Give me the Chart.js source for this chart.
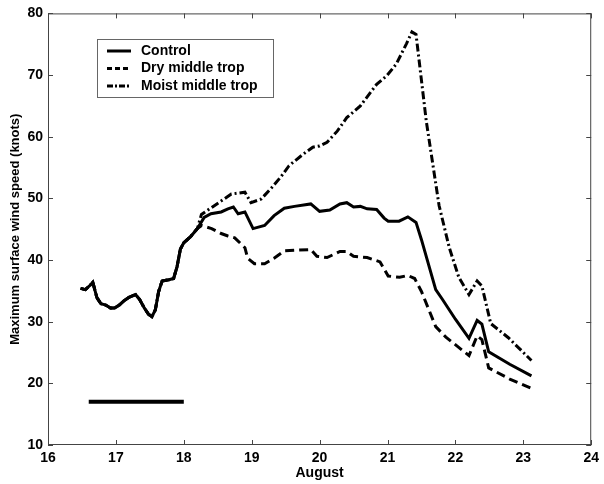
<!DOCTYPE html>
<html>
<head>
<meta charset="utf-8">
<script src="https://cdn.jsdelivr.net/npm/chart.js@4"></script>
<style>
  body { margin: 0; background: #fff; }
  #wrap { width: 604px; height: 484px; }
</style>
</head>
<body>
<div id="wrap"><canvas id="windChart"></canvas></div>
<script>
// shared spin-up period (all three runs identical)
const earlyDays = [16.48, 16.55, 16.62, 16.66, 16.72, 16.78, 16.85, 16.92, 16.98, 17.05, 17.12, 17.2, 17.29, 17.35, 17.42, 17.48, 17.53, 17.58, 17.63, 17.68, 17.78, 17.85, 17.9, 17.95, 18.0, 18.1, 18.2];
const earlyWind = [35.4, 35.2, 35.9, 36.4, 33.9, 32.9, 32.7, 32.2, 32.2, 32.7, 33.4, 34.0, 34.4, 33.6, 32.2, 31.2, 30.8, 31.9, 34.9, 36.6, 36.8, 37.0, 38.9, 41.8, 42.8, 43.8, 45.1];

const controlDays = [18.3, 18.4, 18.55, 18.65, 18.73, 18.8, 18.9, 19.02, 19.19, 19.33, 19.48, 19.63, 19.87, 20.0, 20.15, 20.3, 20.4, 20.5, 20.6, 20.7, 20.84, 20.95, 21.01, 21.17, 21.3, 21.42, 21.5, 21.71, 21.81, 22.0, 22.2, 22.32, 22.39, 22.49, 22.8, 23.12];
const controlWind = [46.9, 47.5, 47.8, 48.3, 48.6, 47.5, 47.8, 45.1, 45.6, 47.2, 48.4, 48.7, 49.1, 47.9, 48.1, 49.1, 49.3, 48.6, 48.7, 48.3, 48.2, 46.8, 46.3, 46.3, 47.0, 46.1, 43.3, 35.2, 33.6, 30.4, 27.3, 30.2, 29.6, 25.1, 23.1, 21.2];

const dryDays = [18.26, 18.41, 18.55, 18.65, 18.75, 18.9, 18.94, 19.04, 19.19, 19.33, 19.48, 19.87, 19.96, 20.11, 20.3, 20.4, 20.5, 20.7, 20.89, 21.01, 21.18, 21.3, 21.4, 21.5, 21.71, 21.86, 22.2, 22.32, 22.39, 22.49, 22.8, 23.12];
const dryWind = [45.6, 45.1, 44.3, 43.9, 43.6, 42.0, 40.3, 39.4, 39.4, 40.3, 41.5, 41.7, 40.6, 40.4, 41.4, 41.4, 40.6, 40.4, 39.7, 37.4, 37.2, 37.5, 37.0, 34.9, 29.2, 27.5, 24.5, 27.7, 27.1, 22.5, 20.7, 19.2];

const moistDays = [18.26, 18.46, 18.7, 18.9, 18.99, 19.14, 19.3, 19.43, 19.55, 19.75, 19.9, 20.0, 20.11, 20.26, 20.4, 20.6, 20.84, 20.99, 21.13, 21.28, 21.36, 21.42, 21.57, 21.76, 21.91, 22.05, 22.2, 22.32, 22.39, 22.52, 22.78, 23.12];
const moistWind = [47.4, 48.9, 50.7, 51.0, 49.3, 49.9, 51.8, 53.5, 55.3, 57.1, 58.3, 58.5, 59.1, 60.9, 63.1, 65.0, 68.5, 69.9, 71.8, 75.1, 77.0, 76.6, 62.6, 48.8, 42.0, 37.2, 34.4, 36.6, 35.8, 29.7, 27.4, 23.7];

// black bar marking the spin-up period
const barDays = [16.6, 18.0];
const barWind = [17, 17];

const seriesNames = ['Control', 'Dry middle trop', 'Moist middle trop'];

function toPoints(days, vals) {
    return days.map((d, i) => ({ x: d, y: vals[i] }));
}

const legendDash = [[], [5, 3], [6, 2, 2, 2]];

// legend drawn as a boxed key inside the plot, like the original figure
const boxLegend = {
    id: 'boxLegend',
    afterDraw(chart) {
        const ctx = chart.ctx;
        ctx.save();
        ctx.strokeStyle = '#666';
        ctx.lineWidth = 1;
        ctx.strokeRect(97.5, 39.5, 176, 58);
        ctx.font = 'bold 14px "Liberation Sans", Arial, sans-serif';
        ctx.textBaseline = 'middle';
        ctx.fillStyle = '#000';
        seriesNames.forEach((name, i) => {
            const yy = 51 + i * 17.5;
            ctx.beginPath();
            ctx.setLineDash(legendDash[i]);
            ctx.lineWidth = 3;
            ctx.strokeStyle = '#000';
            ctx.moveTo(107, yy);
            ctx.lineTo(131, yy);
            ctx.stroke();
            ctx.setLineDash([]);
            ctx.fillText(name, 141, yy);
        });
        ctx.restore();
    }
};

// box round the axes with inward ticks on all sides
const frame = {
    id: 'frame',
    afterDraw(chart) {
        const { ctx, chartArea: a, scales: { x, y } } = chart;
        ctx.save();
        ctx.strokeStyle = '#444';
        ctx.lineWidth = 1;
        ctx.strokeRect(a.left + 0.5, a.top + 0.5, a.right - a.left - 1, a.bottom - a.top - 1);
        ctx.beginPath();
        x.ticks.forEach(t => {
            const px = Math.round(x.getPixelForValue(t.value)) + 0.5;
            ctx.moveTo(px, a.bottom); ctx.lineTo(px, a.bottom - 5);
            ctx.moveTo(px, a.top); ctx.lineTo(px, a.top + 5);
        });
        y.ticks.forEach(t => {
            const py = Math.round(y.getPixelForValue(t.value)) + 0.5;
            ctx.moveTo(a.left, py); ctx.lineTo(a.left + 5, py);
            ctx.moveTo(a.right, py); ctx.lineTo(a.right - 5, py);
        });
        ctx.stroke();
        ctx.restore();
    }
};

const font = { family: '"Liberation Sans", Arial, sans-serif', weight: 'bold', size: 14 };

new Chart(document.getElementById('windChart'), {
    type: 'line',
    data: {
        datasets: [
            {
                label: seriesNames[2],
                data: toPoints(earlyDays.concat(moistDays), earlyWind.concat(moistWind)),
                borderDash: [8, 3, 2, 3]
            },
            {
                label: seriesNames[1],
                data: toPoints(earlyDays.concat(dryDays), earlyWind.concat(dryWind)),
                borderDash: [9, 5]
            },
            {
                label: seriesNames[0],
                data: toPoints(earlyDays.concat(controlDays), earlyWind.concat(controlWind))
            },
            {
                label: 'spin-up',
                data: toPoints(barDays, barWind),
                borderWidth: 4
            }
        ]
    },
    options: {
        responsive: true,
        maintainAspectRatio: false,
        animation: false,
        layout: { padding: { top: 12, right: 7, left: 0, bottom: 0 } },
        elements: {
            line: { borderColor: '#000', borderWidth: 3, tension: 0, fill: false, borderCapStyle: 'butt' },
            point: { radius: 0 }
        },
        plugins: {
            legend: { display: false },
            tooltip: { enabled: false }
        },
        scales: {
            x: {
                type: 'linear',
                min: 16,
                max: 24,
                grid: { display: false, drawTicks: false },
                border: { display: false },
                ticks: { stepSize: 1, color: '#000', font: font, padding: 5, maxRotation: 0 },
                title: { display: true, text: 'August', color: '#000', font: font, padding: { top: 0, bottom: 2 } },
                afterFit(scale) { scale.height = 39; }
            },
            y: {
                type: 'linear',
                min: 10,
                max: 80,
                grid: { display: false, drawTicks: false },
                border: { display: false },
                ticks: { stepSize: 10, color: '#000', font: font, padding: 5 },
                title: { display: true, text: 'Maximum surface wind speed (knots)', color: '#000', font: { family: font.family, weight: 'bold', size: 13 }, padding: { top: 8, bottom: 0 } },
                afterFit(scale) { scale.width = 48; }
            }
        }
    },
    plugins: [frame, boxLegend]
});
</script>
</body>
</html>
